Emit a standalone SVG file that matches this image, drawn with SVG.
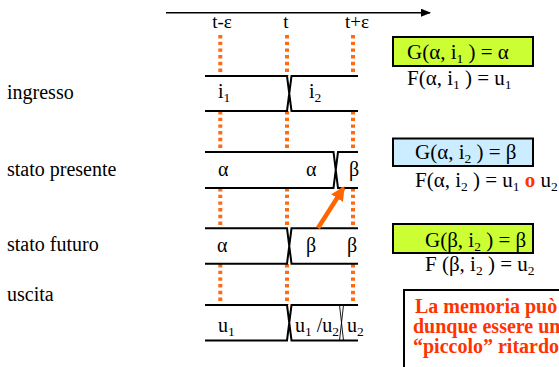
<svg xmlns="http://www.w3.org/2000/svg" width="559" height="367" viewBox="0 0 559 367">
  <style>
    text { font-family: "Liberation Serif", "Times New Roman", serif; font-size: 20px; fill: #000; }
    .axis { font-size: 19px; }
    .eq { font-size: 21px; }
    .sub { font-size: 13.5px; }
    .red { fill: #FF3300; font-weight: bold; }
    .band { fill: none; stroke: #000; stroke-width: 2; }
    .thin { fill: none; stroke: #000; stroke-width: 0.9; }
    .dots { fill: none; stroke: #FF6A13; stroke-width: 4; stroke-dasharray: 3.4 3.3; }
    .green { fill: #CCFF33; stroke: #000; stroke-width: 2; }
    .blue { fill: #CCECFF; stroke: #000; stroke-width: 2; }
    .note { fill: #fff; stroke: #000; stroke-width: 2; }
  </style>
  <defs>
    <marker id="timeHead" viewBox="0 0 10 8" refX="9" refY="4" markerWidth="10" markerHeight="8" markerUnits="userSpaceOnUse" orient="auto">
      <path d="M0,0 L10,4 L0,8 z" fill="#000"/>
    </marker>
    <marker id="causeHead" viewBox="0 0 14 14" refX="12" refY="7" markerWidth="14" markerHeight="14" markerUnits="userSpaceOnUse" orient="auto">
      <path d="M0,0 L14,7 L0,14 z" fill="#FF6600"/>
    </marker>
  </defs>

  <!-- time axis -->
  <g id="timeline">
    <line x1="166" y1="12.7" x2="430" y2="12.7" stroke="#000" stroke-width="1.6" marker-end="url(#timeHead)"/>
    <text class="axis" x="222" y="28" text-anchor="middle">t-ε</text>
    <text class="axis" x="286" y="28" text-anchor="middle">t</text>
    <text class="axis" x="357" y="28" text-anchor="middle">t+ε</text>
  </g>

  <!-- sampling instants -->
  <g id="instants">
    <path class="dots" d="M220.3,35 V76 M220.3,111 V152 M220.3,188 V228 M220.3,264 V305"/>
    <path class="dots" d="M287,35 V76 M287,111 V152 M287,188 V228 M287,264 V305"/>
    <path class="dots" d="M353,35 V76 M353,111 V152 M353,188 V228 M353,264 V305"/>
  </g>

  <!-- signal rows -->
  <g id="ingresso">
    <text x="7" y="99">ingresso</text>
    <path class="band" d="M205,76 H287 L291.5,111 H358 M205,111 H287 L291.5,76 H358"/>
    <text x="218" y="98">i<tspan class="sub" dy="4">1</tspan></text>
    <text x="309" y="98">i<tspan class="sub" dy="4">2</tspan></text>
  </g>

  <g id="stato-presente">
    <text x="7" y="176">stato presente</text>
    <path class="band" d="M205,152 H333.5 L338,188 H358 M205,188 H333.5 L338,152 H358"/>
    <text x="218" y="176">α</text>
    <text x="306" y="176">α</text>
    <text x="349" y="176">β</text>
  </g>

  <g id="stato-futuro">
    <text x="7" y="251">stato futuro</text>
    <path class="band" d="M205,228.3 H287 L291.5,263.7 H358 M205,263.7 H287 L291.5,228.3 H358"/>
    <text x="217" y="252">α</text>
    <text x="306" y="252">β</text>
    <text x="347" y="252">β</text>
  </g>

  <g id="uscita">
    <text x="7" y="301">uscita</text>
    <path class="band" d="M205,305 H287 L291.5,340.5 H358 M205,340.5 H287 L291.5,305 H358"/>
    <path class="thin" d="M339.5,305 L343.5,340.5 M343.5,305 L339.5,340.5"/>
    <text x="218" y="332">u<tspan class="sub" dy="4">1</tspan></text>
    <text x="295" y="332">u<tspan class="sub" dy="4">1</tspan><tspan dy="-4"> /u</tspan><tspan class="sub" dy="4">2</tspan></text>
    <text x="347" y="332">u<tspan class="sub" dy="4">2</tspan></text>
  </g>

  <!-- state update arrow -->
  <g id="connectors">
    <line x1="318" y1="228" x2="343.5" y2="188" stroke="#FF6600" stroke-width="4.5" marker-end="url(#causeHead)"/>
  </g>

  <!-- transition / output functions -->
  <g id="eq-1">
    <rect class="green" x="393" y="37" width="140" height="29"/>
    <text class="eq" x="407" y="59">G(α, i<tspan class="sub" dy="4">1</tspan><tspan dy="-4"> ) = α</tspan></text>
    <text class="eq" x="407" y="85">F(α, i<tspan class="sub" dy="4">1</tspan><tspan dy="-4"> ) = u</tspan><tspan class="sub" dy="4">1</tspan></text>
  </g>

  <g id="eq-2">
    <rect class="blue" x="393" y="138.5" width="140" height="27.5"/>
    <text class="eq" x="415" y="159">G(α, i<tspan class="sub" dy="4">2</tspan><tspan dy="-4"> ) = β</tspan></text>
    <text class="eq" x="415" y="187">F(α, i<tspan class="sub" dy="4">2</tspan><tspan dy="-4"> ) = u</tspan><tspan class="sub" dy="4">1</tspan><tspan dy="-4"> </tspan><tspan class="red">o</tspan><tspan> u</tspan><tspan class="sub" dy="4">2</tspan></text>
  </g>

  <g id="eq-3">
    <rect class="green" x="393" y="224" width="140" height="29"/>
    <text class="eq" x="425" y="247">G(β, i<tspan class="sub" dy="4">2</tspan><tspan dy="-4"> ) = β</tspan></text>
    <text class="eq" x="425" y="271">F (β, i<tspan class="sub" dy="4">2</tspan><tspan dy="-4"> ) = u</tspan><tspan class="sub" dy="4">2</tspan></text>
  </g>

  <!-- remark -->
  <g id="remark">
    <rect class="note" x="404" y="290" width="200" height="100"/>
    <text class="red" x="415" y="313">La memoria può</text>
    <text class="red" x="413" y="333">dunque essere un</text>
    <text class="red" x="413" y="353">“piccolo” ritardo</text>
  </g>
</svg>
